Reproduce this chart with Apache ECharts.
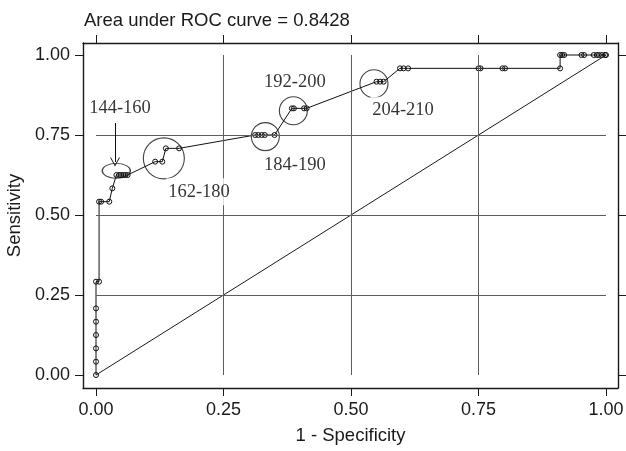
<!DOCTYPE html>
<html>
<head>
<meta charset="utf-8">
<script src="https://cdn.jsdelivr.net/npm/echarts@6/dist/echarts.min.js"></script>
<style>
html,body{margin:0;padding:0;background:#fff}
#chart{width:626px;height:451px}
</style>
</head>
<body>
<div id="chart"></div>
<script>
// ROC 曲线的点: 1 - specificity / sensitivity
const fpr = [0,0,0,0,0,0,0,0.006,0.006,0.010,0.026,0.032,
	0.040,0.045,0.049,0.054,0.058,0.062,0.116,0.130,0.137,0.163,
	0.312,0.318,0.325,0.331,0.350,0.384,0.388,0.408,0.413,
	0.550,0.557,0.564,0.596,0.603,0.612,0.750,0.754,0.797,0.802,0.910,
	0.910,0.914,0.918,0.952,0.957,0.976,0.982,0.986,0.992,0.998,1.0]
const tpr = [0,0.0417,0.0833,0.125,0.1667,0.2083,0.2917,0.2917,0.5417,0.5417,0.5417,0.5833,
	0.625,0.625,0.625,0.625,0.625,0.625,0.6667,0.6667,0.7083,0.7083,
	0.75,0.75,0.75,0.75,0.75,0.8333,0.8333,0.8333,0.8333,
	0.9167,0.9167,0.9167,0.9583,0.9583,0.9583,0.9583,0.9583,0.9583,0.9583,0.9583,
	1,1,1,1,1,1,1,1,1,1,1]
const tickVals = [0,0.25,0.5,0.75,1]
const gridVals = [0.25,0.5,0.75]
const aucText = "Area under ROC curve = 0.8428"

// 分组标注
const groupLabels = ["144-160","162-180","184-190","192-200","204-210"]
const labelX = [0.047,0.202,0.390,0.390,0.602]
const labelY = [0.834,0.573,0.656,0.916,0.827]
const circleX = [0.0398,0.133,0.332,0.387,0.545]
const circleY = [0.638,0.677,0.745,0.826,0.910]
const arrowFrom = [0.0373,0.7875]
const arrowTo = [0.0373,0.6656]

const chart = echarts.init(document.getElementById("chart"))
const sans = "Liberation Sans"
const serif = "Liberation Serif"
const ink = "#1a1a1a"
const circleSizes = [[28,15],41,28,28,28]

const xRange = {min: -0.0255, max: 1.0235}
const yRange = {min: -0.0406, max: 1.0375}

function makeAxis(pos, range, showLabel){
	return {
		type: "value",
		position: pos,
		min: range.min,
		max: range.max,
		axisLine: {show: true, onZero: false, lineStyle: {color: ink, width: 1.4}},
		axisTick: {show: true, customValues: tickVals, length: 8, lineStyle: {color: ink, width: 1}},
		axisLabel: {
			show: showLabel,
			customValues: tickVals,
			formatter: v => v.toFixed(2),
			fontFamily: sans,
			fontSize: 18,
			color: ink,
			margin: 13
		},
		splitLine: {show: false}
	}
}

const xBottom = makeAxis("bottom", xRange, true)
xBottom.name = "1 - Specificity"
xBottom.nameLocation = "middle"
xBottom.nameGap = 38
xBottom.nameTextStyle = {fontFamily: sans, fontSize: 18.5, color: ink}

const yLeft = makeAxis("left", yRange, true)
yLeft.name = "Sensitivity"
yLeft.nameLocation = "middle"
yLeft.nameGap = 55
yLeft.nameTextStyle = {fontFamily: sans, fontSize: 18.5, color: ink}

const gridLines = [
	...gridVals.map(v => [{coord: [v,0]},{coord: [v,1]}]),
	...gridVals.map(v => [{coord: [0,v]},{coord: [1,v]}])
]

const option = {
	animation: false,
	backgroundColor: "#fff",
	title: {
		text: aucText,
		left: 79,
		top: 6,
		textStyle: {fontFamily: sans, fontSize: 18.5, fontWeight: "normal", color: ink}
	},
	grid: {left: 83, right: 8, top: 43, bottom: 63, containLabel: false, outerBoundsMode: "none"},
	xAxis: [xBottom, makeAxis("top", xRange, false)],
	yAxis: [yLeft, makeAxis("right", yRange, false)],
	series: [
		{
			// 对角参考线 + 网格线
			type: "line",
			data: [[0,0],[1,1]],
			symbol: "none",
			lineStyle: {color: ink, width: 1},
			silent: true,
			z: 1,
			markLine: {
				silent: true,
				symbol: ["none","none"],
				label: {show: false},
				lineStyle: {color: "#5e5e5e", width: 1, type: "solid"},
				data: gridLines
			}
		},
		{
			type: "line",
			data: fpr.map((v,i) => [v, tpr[i]]),
			symbol: "circle",
			symbolSize: 5,
			itemStyle: {color: "rgba(0,0,0,0)", borderColor: "#111", borderWidth: 1},
			lineStyle: {color: "#111", width: 1},
			silent: true,
			z: 3
		},
		{
			type: "scatter",
			data: circleX.map((x,i) => ({value: [x, circleY[i]], symbolSize: circleSizes[i]})),
			symbol: "circle",
			itemStyle: {color: "rgba(0,0,0,0)", borderColor: "#111", borderWidth: 1.1},
			silent: true,
			z: 4
		},
		{
			type: "scatter",
			data: labelX.map((x,i) => [x, labelY[i]]),
			symbol: "rect",
			symbolSize: 1,
			itemStyle: {color: "rgba(0,0,0,0)"},
			label: {
				show: true,
				position: "inside",
				formatter: p => groupLabels[p.dataIndex],
				fontFamily: serif,
				fontSize: 18.5,
				color: "#000",
				backgroundColor: "#fff",
				padding: [4,2]
			},
			silent: true,
			z: 5,
			markLine: {
				silent: true,
				symbol: ["none","path://M0,10 L5,0 L10,10 L9,10 L5,2 L1,10 Z"],
				symbolSize: [10,9],
				label: {show: false},
				lineStyle: {color: "#111", width: 1, type: "solid"},
				data: [[{coord: arrowFrom},{coord: arrowTo}]]
			}
		}
	]
}
chart.setOption(option)
</script>
</body>
</html>
